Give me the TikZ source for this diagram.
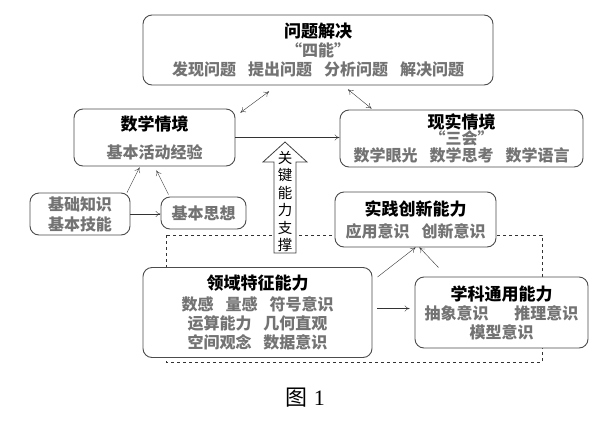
\documentclass[tikz,border=0pt]{standalone}
\usepackage{fontspec}
\setmainfont{Noto Sans CJK SC}
\newfontfamily\capfont{Liberation Serif}
\usetikzlibrary{arrows.meta}
\newcommand\gr[1]{{\color{black!55}\bfseries #1}}
\newcommand\ti[1]{{\fontsize{17}{19}\selectfont\bfseries #1}}
\newcommand\gap{\hspace{0.75em}}

\begin{document}
\begin{tikzpicture}[x=1pt,y=-1pt,>={To[length=5pt,width=6pt]}]
\tikzstyle{every node}=[inner sep=0pt];
\tikzstyle{box}=[draw=black!70,line width=0.9pt,rounded corners=9pt,fill=white,
  align=center,font=\fontsize{16}{19}\selectfont];
\useasboundingbox (0,0) rectangle (600,421);
% dashed frame behind the ability boxes
\draw[dashed,line width=0.8pt,black!80] (166,235) rectangle (542,362);
% key ability arrow
\draw[draw=black!75,line width=0.8pt,fill=white] (274,253) -- (274,162) -- (263,162)
  -- (285,142) -- (307,162) -- (296,162) -- (296,253) -- cycle;
\node[align=center,font=\fontsize{14.5}{17.5}\selectfont] (gj) at (285,201.5)
  {关\\键\\能\\力\\支\\撑};
% boxes
\node[box,minimum width=350pt,minimum height=70pt] (wt) at (318,50)
  {\ti{问题解决}\\\gr{“四能”}\\\gr{发现问题\gap 提出问题\gap 分析问题\gap 解决问题}};
\node[box,minimum width=161pt,minimum height=57pt] (sx) at (154.5,137.5)
  {\ti{数学情境}\\[9pt]\gr{基本活动经验}};
\node[box,minimum width=243pt,minimum height=57pt] (xs) at (461.5,138.5)
  {\ti{现实情境}\\[-3pt]\gr{“三会”}\\[-2pt]\gr{数学眼光\gap 数学思考\gap 数学语言}};
\node[box,minimum width=100pt,minimum height=42pt] (jc) at (80,214)
  {\gr{基础知识}\\[1pt]\gr{基本技能}};
\node[box,minimum width=85pt,minimum height=32pt] (sxs) at (203.5,213)
  {\gr{基本思想}};
\node[box,minimum width=161pt,minimum height=55pt] (sj) at (415.5,219.5)
  {\ti{实践创新能力}\\[3pt]\gr{应用意识\gap 创新意识}};
\node[box,minimum width=229pt,minimum height=90pt] (ly) at (257.5,312.5)
  {\ti{领域特征能力}\\[2pt]\gr{数感\gap 量感\gap 符号意识}\\\gr{运算能力\gap 几何直观}\\\gr{空间观念\gap 数据意识}};
\node[box,minimum width=173pt,minimum height=71pt] (xk) at (501.5,312.5)
  {\ti{学科通用能力}\\\gr{抽象意识\hspace{1.6em}推理意识}\\\gr{模型意识}};
% connectors
\draw[<->,black!80] ([xshift=5pt,yshift=-4pt]sx.north east) -- ([xshift=-49pt,yshift=-6pt]wt.south);
\draw[<->,black!80] ([xshift=30pt,yshift=-4pt]wt.south) -- ([xshift=-90pt,yshift=1pt]xs.north);
\draw[->,black!80] (sx.east) -- (sx.east -| xs.west);
\draw[->,black!80] ([xshift=47pt]jc.north) -- ([xshift=-15pt,yshift=-1pt]sx.south);
\draw[->,black!80] ([xshift=-35pt,yshift=2pt]sxs.north) -- ([xshift=2pt,yshift=-4pt]sx.south);
\draw[->,black!80] (jc.east) -- (jc.east -| sxs.west);
\draw[->,black!80] ([xshift=5pt,yshift=-10pt]ly.north east) -- (sj.south);
\draw[->,black!80] ([xshift=-63pt,yshift=9pt]xk.north) -- ([xshift=4pt]sj.south);
\draw[->,black!80,shorten >=5pt,shorten <=5pt] ([yshift=4pt]ly.east) -- ([yshift=4pt]ly.east -| xk.west);
% caption
\node (tu) at (305,398) {\fontsize{22}{26}\selectfont 图\hspace{0.3em}{\capfont 1}};
\end{tikzpicture}
\end{document}
